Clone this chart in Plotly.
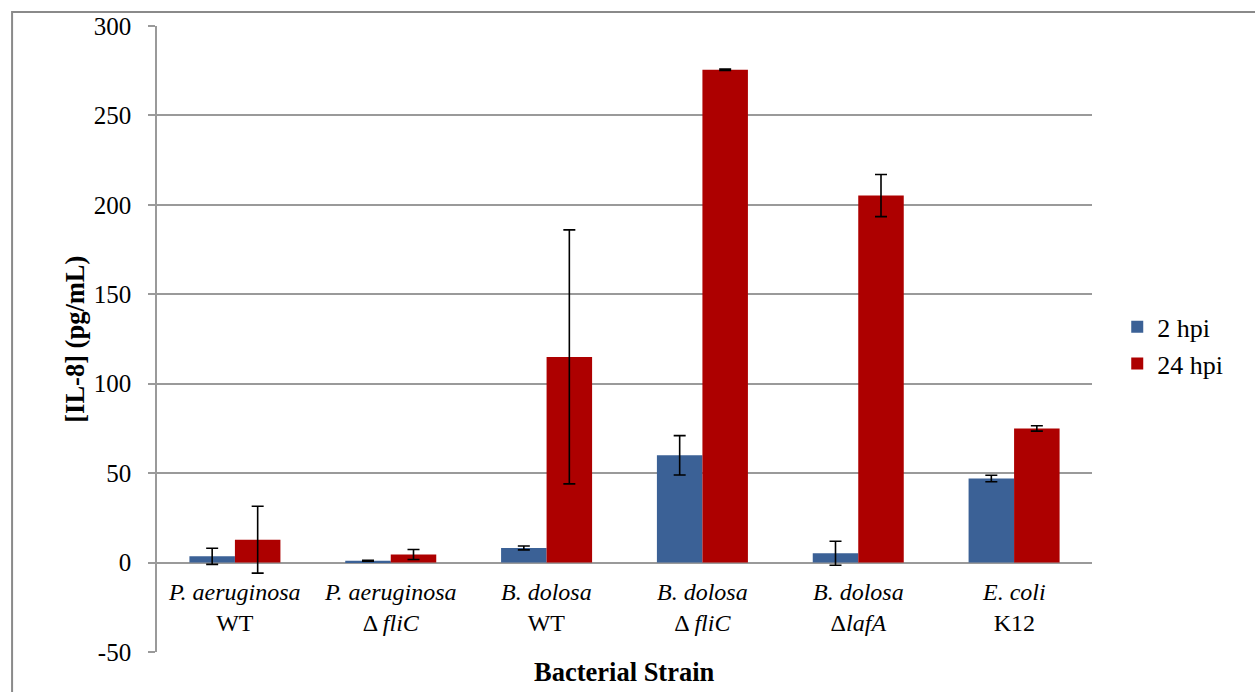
import plotly.graph_objects as go

categories = ["P. aeruginosa WT", "P. aeruginosa ΔfliC", "B. dolosa WT",
              "B. dolosa ΔfliC", "B. dolosa ΔlafA", "E. coli K12"]
cat_labels = ["<i>P. aeruginosa</i><br>WT", "<i>P. aeruginosa</i><br>Δ <i>fliC</i>",
              "<i>B. dolosa</i><br>WT", "<i>B. dolosa</i><br>Δ <i>fliC</i>",
              "<i>B. dolosa</i><br>Δ<i>lafA</i>", "<i>E. coli</i><br>K12"]
hpi2 = [3.5, 1.0, 8.2, 60.0, 5.2, 47.0]
hpi2_err = [4.5, 0.3, 1.1, 11.0, 6.7, 1.8]
hpi24 = [12.8, 4.5, 115.0, 275.5, 205.2, 75.0]
hpi24_err = [18.7, 2.8, 71.0, 0.4, 11.8, 1.5]
y_ticks = [-50, 0, 50, 100, 150, 200, 250, 300]
y_tick_text = ["-50", "0", "50", "100", "150", "200", "250", "300"]

FONT = "Liberation Serif, Times New Roman, serif"
GRID = "#9a9a9a"

fig = go.Figure()
fig.add_trace(go.Bar(
    x=categories, y=hpi2, name="2 hpi", legendgroup="a",
    marker=dict(color="#3b6196", line=dict(width=0)),
    error_y=dict(type="data", array=hpi2_err, color="black", thickness=1.6, width=6),
))
fig.add_trace(go.Bar(
    x=categories, y=hpi24, name="24 hpi", legendgroup="b",
    marker=dict(color="#ad0000", line=dict(width=0)),
    error_y=dict(type="data", array=hpi24_err, color="black", thickness=1.6, width=6),
))

for c, lab in zip(categories, cat_labels):
    fig.add_annotation(x=c, y=-8, xref="x", yref="y", text=lab, showarrow=False,
                       yanchor="top", xanchor="center",
                       font=dict(family=FONT, size=24, color="black"))

fig.add_annotation(x=0.5, y=-0.005, xref="paper", yref="paper", text="<b>Bacterial Strain</b>",
                   showarrow=False, yanchor="top", xanchor="center",
                   font=dict(family=FONT, size=26.5, color="black"))
fig.add_annotation(x=-0.088, y=0.5, xref="paper", yref="paper", text="<b>[IL-8] (pg/mL)</b>",
                   showarrow=False, textangle=-90, yanchor="middle", xanchor="center",
                   font=dict(family=FONT, size=26.5, color="black"))

fig.add_shape(type="rect", xref="paper", yref="paper", x0=-0.155, x1=1.3, y0=-0.2, y1=1.0224,
              line=dict(color="#8a8a8a", width=2), fillcolor="rgba(0,0,0,0)", layer="below")

fig.update_layout(
    width=1255, height=692,
    margin=dict(l=157, r=163, t=26, b=40),
    paper_bgcolor="white", plot_bgcolor="white",
    barmode="group", bargap=0.416, bargroupgap=0,
    font=dict(family=FONT, size=24, color="black"),
    showlegend=True,
    legend=dict(x=1.027, y=0.49, xanchor="left", yanchor="middle",
                font=dict(family=FONT, size=26, color="black"),
                tracegroupgap=18, traceorder="normal", itemwidth=30),
    xaxis=dict(showticklabels=False, showgrid=False, showline=False, ticks="",
               range=[-0.5, 5.5], zeroline=False),
    yaxis=dict(range=[-50, 300], tickvals=y_ticks, ticktext=y_tick_text,
               showgrid=True, gridcolor=GRID, gridwidth=1.6,
               zeroline=True, zerolinecolor=GRID, zerolinewidth=1.6,
               showline=True, linecolor=GRID, linewidth=1.6,
               ticks="outside", ticklen=7, tickcolor=GRID, tickwidth=1.6,
               ticklabelstandoff=12,
               tickfont=dict(family=FONT, size=25, color="black")),
)

fig.write_html("out.html")
